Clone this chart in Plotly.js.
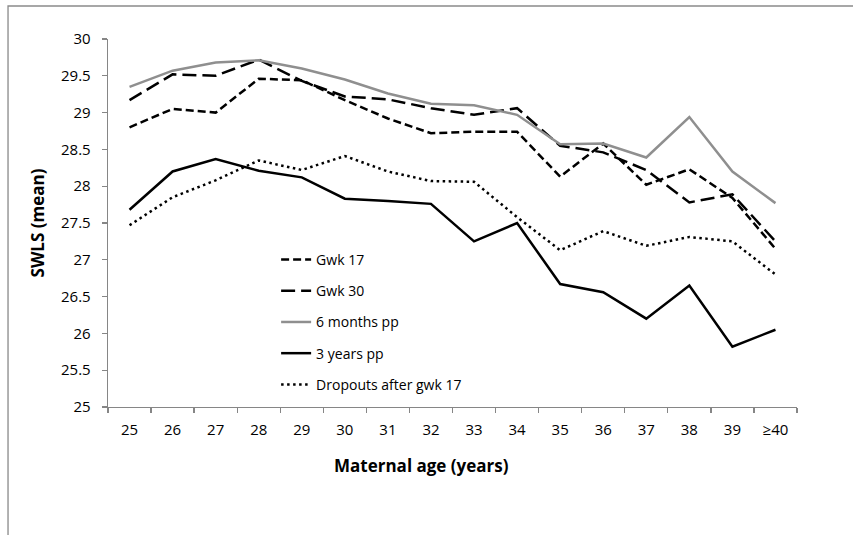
<!DOCTYPE html>
<html><head><meta charset="utf-8">
<script src="https://cdn.plot.ly/plotly-3.0.1.min.js"></script>
<style>html,body{margin:0;padding:0;background:#fff}#chart{width:853px;height:535px}</style>
</head><body><div id="chart"></div>
<script>
const ages = ['25','26','27','28','29','30','31','32','33','34','35','36','37','38','39','≥40'];
const gwk17 = [28.80, 29.05, 29.00, 29.46, 29.44, 29.17, 28.92, 28.72, 28.74, 28.74, 28.13, 28.58, 28.02, 28.23, 27.84, 27.15];
const gwk30 = [29.17, 29.52, 29.50, 29.72, 29.43, 29.22, 29.18, 29.06, 28.97, 29.06, 28.55, 28.46, 28.22, 27.78, 27.89, 27.25];
const pp6m  = [29.35, 29.57, 29.68, 29.71, 29.60, 29.45, 29.26, 29.12, 29.10, 28.97, 28.57, 28.58, 28.39, 28.94, 28.20, 27.77];
const pp3y  = [27.68, 28.20, 28.37, 28.21, 28.12, 27.83, 27.80, 27.76, 27.25, 27.50, 26.67, 26.56, 26.20, 26.65, 25.82, 26.05];
const dropouts = [27.47, 27.85, 28.08, 28.35, 28.22, 28.41, 28.20, 28.07, 28.06, 27.58, 27.13, 27.39, 27.19, 27.31, 27.25, 26.80];
const yTicks = [25, 25.5, 26, 26.5, 27, 27.5, 28, 28.5, 29, 29.5, 30];
const yTickText = ['25','25.5','26','26.5','27','27.5','28','28.5','29','29.5','30'];
const xTitle = 'Maternal age (years)';
const yTitle = 'SWLS (mean)';

const FONT = 'Open Sans, Noto Sans, sans-serif';
const mk = (name, y, color, dash, g) => ({
  type: 'scatter', mode: 'lines', name: name, x: ages, y: y,
  legendgroup: g, line: {color: color, width: 2.5, dash: dash}
});
const data = [
  mk('Gwk 17', gwk17, '#000000', '8px,4px', 'a'),
  mk('Gwk 30', gwk30, '#000000', '14px,6px', 'b'),
  mk('6 months pp', pp6m, '#8f8f8f', 'solid', 'c'),
  mk('3 years pp', pp3y, '#000000', 'solid', 'd'),
  mk('Dropouts after gwk 17', dropouts, '#000000', '2.5px,3.5px', 'e')
];
const layout = {
  width: 853, height: 535,
  margin: {l: 108, r: 56, t: 39, b: 128},
  paper_bgcolor: '#ffffff', plot_bgcolor: '#ffffff',
  font: {family: FONT, size: 15, color: '#000'},
  showlegend: true,
  legend: {x: 0.244, y: 0.443, xanchor: 'left', yanchor: 'top', bgcolor: 'rgba(0,0,0,0)',
           font: {family: FONT, size: 14}, tracegroupgap: 10, traceorder: 'grouped'},
  xaxis: {
    type: 'category', tickmode: 'array', tickvals: ages, ticktext: ages,
    range: [-0.5, 15.5], showgrid: false, zeroline: false,
    showline: true, linecolor: '#868686', linewidth: 1.3,
    ticks: 'outside', ticklen: 5, tickcolor: '#868686', tickwidth: 1.3, tickson: 'boundaries',
    tickfont: {family: FONT, size: 15}, ticklabelstandoff: 9,
    automargin: false
  },
  yaxis: {
    range: [25, 30], tickmode: 'array', tickvals: yTicks, ticktext: yTickText,
    showgrid: false, zeroline: false,
    showline: true, linecolor: '#868686', linewidth: 1.3,
    ticks: 'outside', ticklen: 5, tickcolor: '#868686', tickwidth: 1.3,
    tickfont: {family: FONT, size: 15}, ticklabelstandoff: 8,
    title: {text: '<b>' + yTitle + '</b>', font: {family: FONT, size: 17}, standoff: 12},
    automargin: false
  },
  annotations: [{text: '<b>' + xTitle + '</b>', xref: 'paper', yref: 'paper',
                 x: 0.4543, y: -0.1603, xanchor: 'center', yanchor: 'middle', showarrow: false,
                 font: {family: FONT, size: 17, color: '#000'}}],
  shapes: [{type: 'rect', xref: 'paper', yref: 'paper',
            x0: -0.1451, x1: 1.0914, y0: -0.40, y1: 1.0897,
            line: {color: '#8a8a8a', width: 1.3}, fillcolor: 'rgba(0,0,0,0)', layer: 'below'}]
};
Plotly.newPlot('chart', data, layout, {displayModeBar: false, staticPlot: true});
</script></body></html>
